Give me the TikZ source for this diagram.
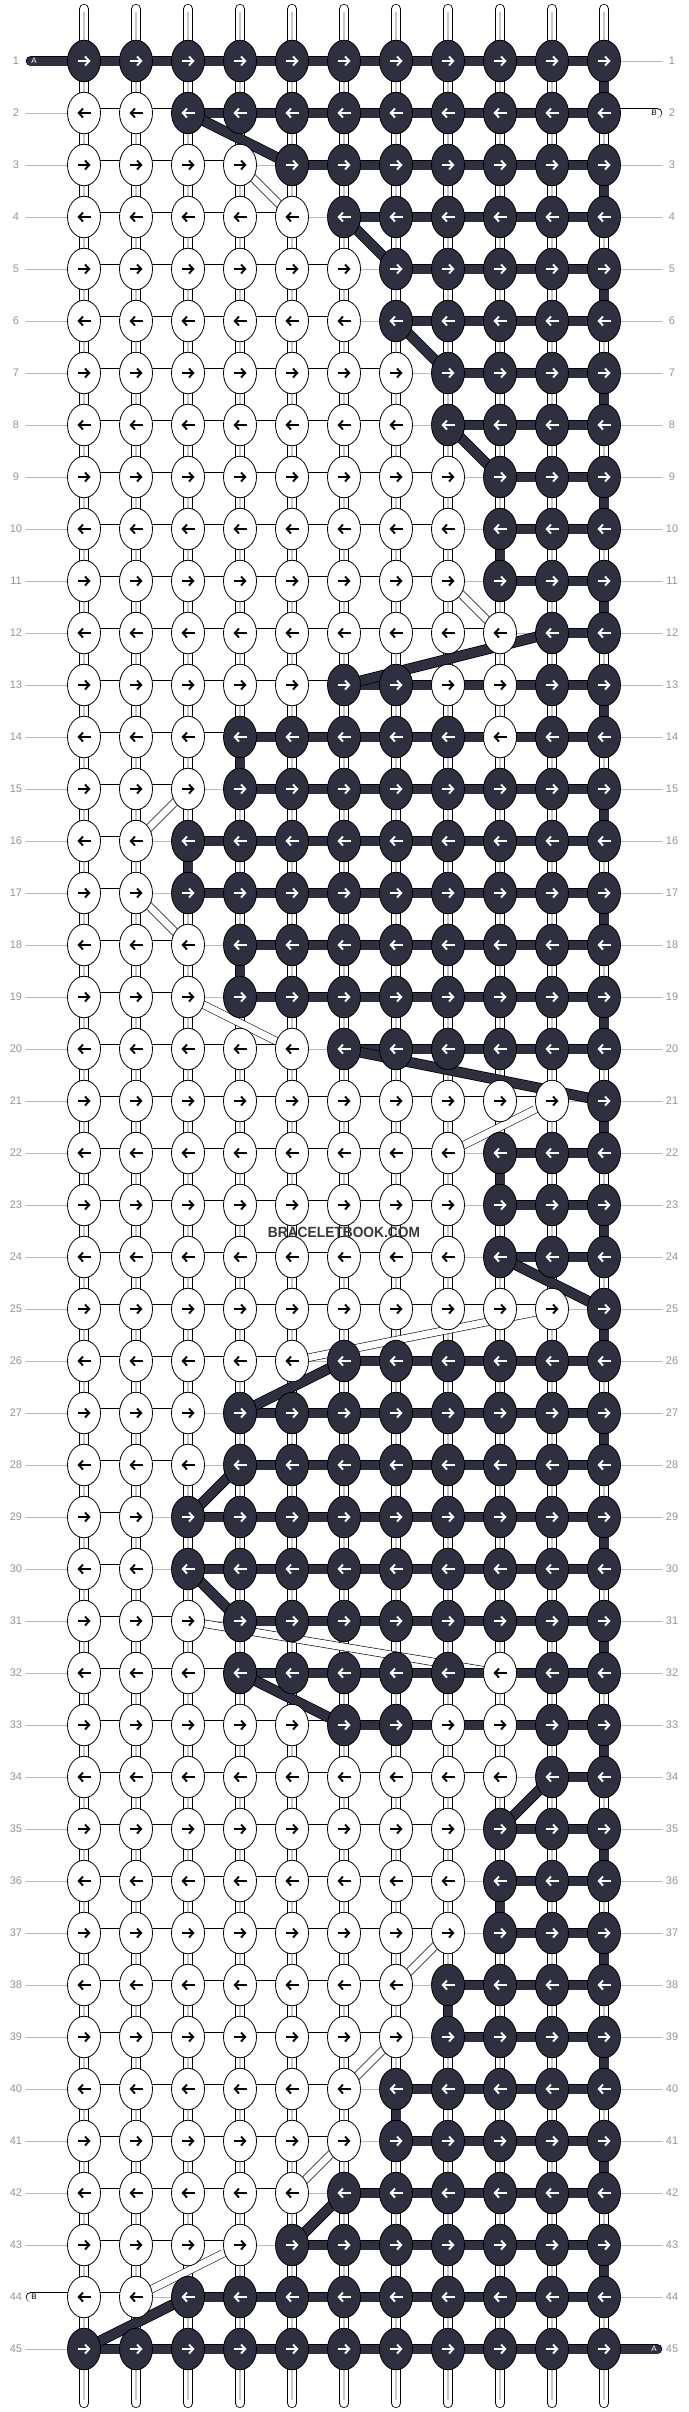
\documentclass[tikz,border=0pt]{standalone}
\usepackage{fontspec}
\setmainfont{Liberation Sans}
\usetikzlibrary{shapes.geometric}
\usetikzlibrary{arrows.meta}
\definecolor{knotdark}{HTML}{302F3F}
\tikzset{
  knotW/.style={ellipse, draw=black, line width=0.8pt, fill=white, minimum width=33pt, minimum height=41.5pt, inner sep=0pt},
  knotD/.style={knotW, fill=knotdark},
  arrowB/.style={-{Straight Barb[length=4.2pt,width=9pt]}, line width=1.9pt, black},
  arrowW/.style={arrowB, white},
  whitebar/.style={draw=black, line width=0.8pt, double=white, double distance=9pt},
  darkbar/.style={draw=black, line width=0.8pt, double=knotdark, double distance=9pt},
  whitediag/.style={draw=black, line width=0.6pt, double=white, double distance=7pt},
  warp/.style={draw=black, line width=0.8pt, double=white, double distance=8.6pt, line cap=round},
  warpmid/.style={line width=1.5pt, black!22},
  rowline/.style={line width=0.9pt, black!28},
  rowlabel/.style={text=black!42, font=\fontsize{11}{11}\selectfont, inner sep=0pt},
  endlabel/.style={font=\fontsize{8}{8}\selectfont, inner sep=0pt}
}
% row / white knots from left / white gaps / first dark gap / extra white knots
\newcommand\knotrows{1/0/0/1/0/0, 2/2/2/3/0/0, 3/4/3/5/0/0, 4/5/4/6/0/0, 5/6/5/7/0/0,
  6/6/5/7/0/0, 7/7/6/8/0/0, 8/7/6/8/0/0, 9/8/7/9/0/0, 10/8/7/9/0/0, 11/8/7/9/0/0,
  12/9/8/10/0/0, 13/5/5/6/8/9, 14/3/3/4/9/0, 15/3/2/4/0/0, 16/2/1/3/0/0, 17/2/1/3/0/0,
  18/3/2/4/0/0, 19/3/2/4/0/0, 20/5/4/6/0/0, 21/10/9/11/0/0, 22/8/7/9/0/0, 23/8/7/9/0/0,
  24/8/7/9/0/0, 25/10/9/11/0/0, 26/5/4/6/0/0, 27/3/2/4/0/0, 28/3/2/4/0/0, 29/2/1/3/0/0,
  30/2/1/3/0/0, 31/3/2/4/0/0, 32/3/3/4/9/0, 33/5/5/6/8/9, 34/9/8/10/0/0, 35/8/7/9/0/0,
  36/8/7/9/0/0, 37/8/7/9/0/0, 38/7/6/8/0/0, 39/7/6/8/0/0, 40/6/5/7/0/0, 41/6/5/7/0/0,
  42/5/4/6/0/0, 43/4/3/5/0/0, 44/2/1/3/0/0, 45/0/0/1/0/0}
\begin{document}
\begin{tikzpicture}[x=1pt,y=-1pt]
  \useasboundingbox (0,0) rectangle (688,2412);
  % grid
  \foreach \r in {1,...,45}
    \foreach \c in {1,...,11}
      \coordinate (p-\r-\c) at ({84+52*(\c-1)},{61+52*(\r-1)});
  % row lines and numbers
  \foreach \r in {1,...,45}{
    \draw[rowline] ([xshift=-58pt]p-\r-1) -- ([xshift=58pt]p-\r-11);
    \node[rowlabel] (ll-\r) at ([xshift=-68pt]p-\r-1) {\r};
    \node[rowlabel] (lr-\r) at ([xshift=68pt]p-\r-11) {\r};
  }
  % warp strings
  \foreach \c in {1,...,11}{
    \coordinate (top-\c) at ({84+52*(\c-1)},9);
    \coordinate (bot-\c) at ({84+52*(\c-1)},2403);
    \draw[warp] (top-\c) -- (bot-\c);
    \draw[warpmid] ([yshift=-3pt]top-\c) -- ([yshift=3pt]bot-\c);
  }
  % white thread crossing rows
  \foreach \ra/\ca/\rb/\cb in {3/4/4/5, 11/8/12/9, 15/3/16/2, 17/2/18/3, 19/3/20/5,
      21/10/22/8, 25/10/26/5, 31/3/32/9, 37/8/38/7, 39/7/40/6, 41/6/42/5, 43/4/44/2}
    \draw[whitediag] (p-\ra-\ca) -- (p-\rb-\cb);
  % threads along the rows
  \foreach \r/\k/\wc/\dc/\xa/\xb in \knotrows{
    \foreach \g in {1,...,10}{
      \pgfmathtruncatemacro\h{\g+1}
      \ifnum\g>\wc\else \draw[whitebar] (p-\r-\g) -- (p-\r-\h); \fi
      \ifnum\g<\dc\else \draw[darkbar] (p-\r-\g) -- (p-\r-\h); \fi
    }
  }
  % dark thread turning down
  \foreach \r/\c in {1/11, 3/11, 5/11, 7/11, 9/11, 10/9, 11/11, 13/11, 14/4, 15/11,
      16/3, 17/11, 18/4, 19/11, 21/11, 22/9, 23/11, 25/11, 27/11, 29/11, 31/11, 33/11,
      35/11, 36/9, 37/11, 38/8, 39/11, 40/7, 41/11, 43/11}{
    \pgfmathtruncatemacro\s{\r+1}
    \draw[darkbar] (p-\r-\c) -- (p-\s-\c);
  }
  \foreach \ra/\ca/\rb/\cb in {2/3/3/5, 4/6/5/7, 6/7/7/8, 8/8/9/9, 12/10/13/6, 20/6/21/11,
      24/9/25/11, 26/6/27/4, 28/4/29/3, 30/3/31/4, 32/4/33/6, 34/10/35/9, 42/6/43/5, 44/3/45/1}
    \draw[darkbar] (p-\ra-\ca) -- (p-\rb-\cb);
  % thread ends
  \coordinate (inA) at (31,61);
  \coordinate (inB) at (657,113);
  \coordinate (outB) at (31,2297);
  \coordinate (outA) at (657,2349);
  \draw[darkbar, line cap=round] (inA) -- (p-1-1);
  \draw[whitebar, line cap=round] (p-2-11) -- (inB);
  \draw[whitebar, line cap=round] (outB) -- (p-44-1);
  \draw[darkbar, line cap=round] (p-45-11) -- (outA);
  \node[endlabel, text=white] (tA1) at (34,61) {A};
  \node[endlabel] (tB1) at (654,113) {B};
  \node[endlabel] (tB2) at (34,2297) {B};
  \node[endlabel, text=white] (tA2) at (654,2349) {A};
  % knots
  \foreach \r/\k/\wc/\dc/\xa/\xb in \knotrows{
    \pgfmathsetmacro\axl{isodd(\r) ? -6.5 : 6.5}
    \pgfmathsetmacro\axr{isodd(\r) ? 6.5 : -6.5}
    \foreach \c in {1,...,11}{
      \pgfmathtruncatemacro\isw{(\c<=\k)||(\c==\xa)||(\c==\xb)}
      \ifnum\isw=1
        \node[knotW] (k-\r-\c) at (p-\r-\c) {};
        \draw[arrowB] ([xshift=\axl pt]k-\r-\c.center) -- ([xshift=\axr pt]k-\r-\c.center);
      \else
        \node[knotD] (k-\r-\c) at (p-\r-\c) {};
        \draw[arrowW] ([xshift=\axl pt]k-\r-\c.center) -- ([xshift=\axr pt]k-\r-\c.center);
      \fi
    }
  }
  \node[font=\bfseries\fontsize{14.8}{15}\selectfont, text=black!78, xscale=0.93, inner sep=0pt] (mark) at (344,1232) {BRACELETBOOK.COM};
\end{tikzpicture}
\end{document}
